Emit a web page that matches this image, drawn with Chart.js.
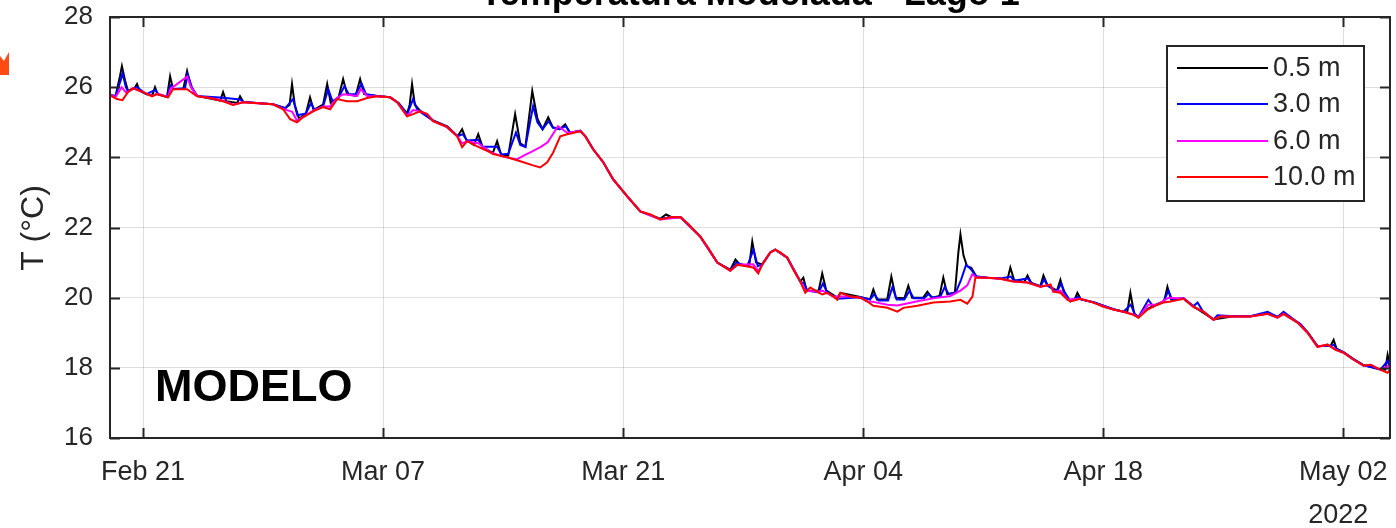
<!DOCTYPE html>
<html>
<head>
<meta charset="utf-8">
<script src="https://cdn.jsdelivr.net/npm/chart.js@4.4.1/dist/chart.umd.min.js"></script>
<style>
html, body { margin: 0; padding: 0; background: #fff; }
#wrap { position: relative; width: 1396px; height: 528px; overflow: hidden; }
</style>
</head>
<body>
<div id="wrap"><canvas id="grafico" width="1396" height="528"></canvas></div>
<script>
// dias contados a partir de 21/02/2022 00:00, temperatura em °C
const diasTicks = [0, 14, 28, 42, 56, 70];
const rotulosTicks = ['Feb 21', 'Mar 07', 'Mar 21', 'Apr 04', 'Apr 18', 'May 02'];
const profundidades = ['0.5 m', '3.0 m', '6.0 m', '10.0 m'];
const cores = ['#000000', '#0000ff', '#ff00ff', '#ff0000'];

const temp05m = [
  [-1.93, 25.77], [-1.6, 25.75], [-1.35, 26.3], [-1.23, 26.6], [-1.05, 26.2], [-0.88, 25.9],
  [-0.5, 25.97], [-0.35, 26.09], [-0.2, 25.9], [0.2, 25.8], [0.55, 25.78], [0.7, 26.0],
  [0.85, 25.8], [1.4, 25.72], [1.58, 26.31], [1.75, 25.95], [2.35, 25.95], [2.57, 26.46],
  [2.8, 26.0], [3.15, 25.75], [4.5, 25.62], [4.67, 25.86], [4.85, 25.6], [5.5, 25.55],
  [5.66, 25.74], [5.85, 25.58], [7.58, 25.51], [8.3, 25.4], [8.55, 25.5], [8.69, 26.09],
  [8.85, 25.5], [9.1, 25.1], [9.5, 25.25], [9.74, 25.71], [9.95, 25.35], [10.5, 25.5],
  [10.74, 26.09], [10.95, 25.55], [11.4, 25.7], [11.67, 26.23], [11.9, 25.8], [12.4, 25.75],
  [12.66, 26.23], [12.9, 25.8], [13.65, 25.75], [14.41, 25.71], [14.9, 25.55], [15.4, 25.25],
  [15.55, 25.5], [15.69, 26.09], [15.85, 25.5], [16.16, 25.33], [16.92, 25.05], [17.74, 24.88],
  [18.35, 24.6], [18.61, 24.8], [18.85, 24.5], [19.3, 24.35], [19.55, 24.66], [19.8, 24.3],
  [20.4, 24.12], [20.65, 24.46], [20.9, 24.05], [21.3, 24.05], [21.7, 25.23], [22.0, 24.4],
  [22.3, 24.3], [22.7, 25.89], [23.0, 25.1], [23.3, 24.8], [23.63, 25.14], [23.9, 24.85],
  [24.3, 24.8], [24.62, 24.94], [24.9, 24.7], [25.5, 24.76], [25.8, 24.6], [26.25, 24.23],
  [26.84, 23.86], [27.42, 23.37], [28.24, 22.89], [29.0, 22.46], [30.16, 22.25], [30.5, 22.37],
  [30.8, 22.3], [31.35, 22.29], [32.5, 21.74], [33.49, 21.0], [34.25, 20.8], [34.55, 21.09],
  [34.8, 20.95], [35.35, 20.9], [35.53, 21.6], [35.75, 21.0], [36.1, 20.95], [36.58, 21.29],
  [36.87, 21.37], [37.57, 21.14], [38.33, 20.46], [38.51, 20.57], [38.7, 20.2], [39.4, 20.2],
  [39.61, 20.69], [39.85, 20.2], [40.49, 20.0], [40.67, 20.14], [41.83, 20.02], [42.4, 19.95],
  [42.59, 20.23], [42.8, 19.95], [43.4, 19.95], [43.64, 20.6], [43.9, 20.0], [44.4, 19.98],
  [44.63, 20.34], [44.85, 20.0], [45.5, 20.0], [45.74, 20.17], [46.0, 20.0], [46.45, 20.05],
  [46.67, 20.57], [46.9, 20.1], [47.35, 20.15], [47.55, 21.3], [47.67, 21.8], [47.85, 21.2],
  [48.05, 20.9], [48.3, 20.85], [48.6, 20.6], [49.24, 20.57], [50.0, 20.55], [50.4, 20.5],
  [50.58, 20.86], [50.8, 20.5], [51.4, 20.45], [51.58, 20.63], [51.8, 20.42], [52.33, 20.33],
  [52.51, 20.63], [52.75, 20.35], [53.3, 20.2], [53.5, 20.51], [53.7, 20.15], [54.08, 19.9],
  [54.35, 19.97], [54.49, 20.14], [54.7, 19.95], [55.43, 19.87], [56.59, 19.67], [57.18, 19.6],
  [57.4, 19.6], [57.58, 20.14], [57.8, 19.55], [58.05, 19.45], [58.58, 19.68], [59.16, 19.82],
  [59.55, 19.9], [59.74, 20.31], [59.95, 19.95], [60.68, 19.98], [61.26, 19.75], [62.43, 19.38],
  [63.59, 19.47], [64.58, 19.47], [65.58, 19.55], [66.16, 19.45], [66.51, 19.55], [67.33, 19.3],
  [67.91, 19.02], [68.49, 18.62], [69.25, 18.62], [69.43, 18.8], [69.6, 18.55], [70.01, 18.45],
  [70.6, 18.25], [71.18, 18.08], [72.17, 17.96], [72.45, 17.95], [72.58, 18.37], [72.75, 17.98]
];

const temp3m = [
  [-1.93, 25.77], [-1.6, 25.75], [-1.3, 26.2], [-1.2, 26.4], [-1.0, 26.0], [-0.88, 25.88],
  [-0.35, 26.0], [0.2, 25.8], [0.7, 25.92], [0.9, 25.8], [1.4, 25.72], [1.6, 26.05],
  [1.8, 25.95], [2.45, 25.97], [2.6, 26.37], [2.85, 26.0], [3.15, 25.75], [4.67, 25.7],
  [5.66, 25.65], [5.85, 25.58], [7.58, 25.51], [8.3, 25.4], [8.75, 25.66], [9.0, 25.2],
  [9.5, 25.25], [9.8, 25.55], [10.0, 25.35], [10.5, 25.45], [10.8, 25.94], [11.05, 25.6],
  [11.4, 25.7], [11.75, 26.03], [12.0, 25.8], [12.4, 25.8], [12.75, 26.1], [13.0, 25.8],
  [13.65, 25.75], [14.41, 25.71], [14.9, 25.55], [15.4, 25.22], [15.75, 25.66], [16.0, 25.35],
  [16.92, 25.04], [17.74, 24.87], [18.35, 24.6], [18.65, 24.66], [18.9, 24.48], [19.55, 24.5],
  [19.8, 24.3], [20.65, 24.3], [20.9, 24.08], [21.3, 24.1], [21.75, 24.71], [22.0, 24.35],
  [22.3, 24.3], [22.75, 25.46], [23.0, 25.0], [23.3, 24.8], [23.65, 25.03], [23.9, 24.85],
  [24.3, 24.8], [24.65, 24.89], [24.9, 24.7], [25.5, 24.75], [25.8, 24.6], [26.25, 24.23],
  [26.84, 23.86], [27.42, 23.37], [28.24, 22.89], [29.0, 22.46], [30.16, 22.24], [30.8, 22.3],
  [31.35, 22.29], [32.5, 21.74], [33.49, 21.0], [34.25, 20.78], [34.6, 21.0], [35.24, 20.9],
  [35.6, 21.37], [35.85, 20.9], [36.11, 20.95], [36.58, 21.29], [36.87, 21.37], [37.57, 21.14],
  [38.33, 20.46], [38.55, 20.4], [38.75, 20.2], [39.4, 20.15], [39.65, 20.4], [39.9, 20.15],
  [40.49, 19.97], [41.83, 20.01], [42.4, 19.95], [42.65, 20.1], [42.9, 19.92], [43.45, 19.92],
  [43.7, 20.3], [43.95, 19.95], [44.4, 19.95], [44.7, 20.2], [44.95, 19.98], [45.55, 19.98],
  [45.8, 20.1], [46.05, 20.0], [46.5, 20.03], [46.75, 20.3], [47.0, 20.1], [47.4, 20.15],
  [47.7, 20.5], [48.0, 20.94], [48.3, 20.8], [48.6, 20.6], [49.24, 20.57], [50.0, 20.55],
  [50.6, 20.6], [50.8, 20.48], [51.6, 20.55], [51.8, 20.42], [52.33, 20.32], [52.55, 20.52],
  [52.75, 20.34], [53.3, 20.18], [53.55, 20.4], [53.75, 20.15], [54.08, 19.9], [54.5, 20.02],
  [54.7, 19.95], [55.43, 19.87], [56.59, 19.67], [57.18, 19.6], [57.6, 19.8], [57.85, 19.52],
  [58.05, 19.45], [58.63, 19.94], [58.9, 19.75], [59.16, 19.81], [59.5, 19.88], [59.8, 20.2],
  [60.0, 19.95], [60.68, 19.98], [61.26, 19.76], [61.5, 19.86], [61.8, 19.62], [62.43, 19.38],
  [62.66, 19.5], [63.59, 19.47], [64.58, 19.47], [65.58, 19.6], [66.16, 19.45], [66.51, 19.6],
  [67.33, 19.3], [67.5, 19.25], [67.91, 19.02], [68.49, 18.62], [69.25, 18.62], [69.45, 18.66],
  [69.6, 18.53], [70.01, 18.44], [70.6, 18.24], [71.18, 18.07], [72.17, 17.95], [72.58, 18.2],
  [72.75, 17.95]
];

const temp6m = [
  [-1.93, 25.77], [-1.6, 25.72], [-1.25, 26.0], [-1.0, 25.85], [-0.88, 25.87], [-0.58, 25.97],
  [0, 25.86], [0.53, 25.75], [0.82, 25.82], [1.46, 25.72], [1.6, 25.95], [2.57, 26.3],
  [2.8, 26.0], [3.15, 25.75], [3.91, 25.69], [4.67, 25.62], [5.25, 25.5], [5.83, 25.57],
  [7.58, 25.51], [8.17, 25.38], [8.7, 25.3], [8.98, 25.05], [9.33, 25.15], [9.92, 25.33],
  [10.5, 25.45], [10.91, 25.45], [11.32, 25.7], [11.7, 25.8], [12.49, 25.75], [12.7, 25.94],
  [13.07, 25.75], [13.65, 25.74], [14.41, 25.71], [14.82, 25.57], [15.4, 25.18], [15.75, 25.35],
  [16.16, 25.31], [16.57, 25.23], [16.92, 25.03], [17.74, 24.86], [18.32, 24.6], [18.61, 24.4],
  [18.9, 24.46], [19.55, 24.4], [20.25, 24.15], [21.0, 24.02], [21.8, 23.94], [22.2, 24.05],
  [22.7, 24.17], [23.2, 24.3], [23.6, 24.43], [24.2, 24.89], [24.74, 24.7], [25.5, 24.75],
  [25.79, 24.6], [26.25, 24.23], [26.84, 23.86], [27.42, 23.37], [28.24, 22.89], [29.0, 22.46],
  [30.16, 22.23], [31.35, 22.29], [32.5, 21.74], [33.49, 21.0], [34.25, 20.77], [34.66, 20.94],
  [35.59, 20.95], [35.88, 20.75], [36.11, 20.94], [36.58, 21.29], [36.87, 21.37], [37.57, 21.14],
  [38.33, 20.46], [38.62, 20.2], [39.32, 20.17], [39.61, 20.2], [40.26, 20.03], [41.25, 20.03],
  [41.83, 20.0], [42.24, 19.9], [42.59, 19.88], [43.41, 19.8], [43.99, 19.78], [44.7, 19.85],
  [45.16, 19.9], [46.09, 19.98], [47.08, 20.05], [47.67, 20.2], [48.07, 20.35], [48.35, 20.66],
  [48.6, 20.58], [49.24, 20.57], [50.0, 20.54], [50.76, 20.46], [51.58, 20.43], [52.33, 20.31],
  [52.92, 20.37], [53.09, 20.17], [53.5, 20.2], [53.91, 19.95], [54.67, 19.97], [55.43, 19.86],
  [56.59, 19.66], [57.18, 19.6], [57.76, 19.52], [58.05, 19.44], [58.63, 19.8], [59.16, 19.8],
  [59.8, 20.0], [60.68, 19.98], [61.26, 19.74], [61.84, 19.6], [62.43, 19.37], [62.83, 19.46],
  [63.59, 19.46], [64.58, 19.46], [65.58, 19.54], [66.16, 19.43], [66.51, 19.54], [67.33, 19.29],
  [67.91, 19.0], [68.49, 18.6], [69.08, 18.66], [69.55, 18.52], [70.01, 18.43], [70.6, 18.23],
  [71.18, 18.06], [71.59, 18.09], [72.17, 17.94], [72.58, 18.05], [72.75, 18.0]
];

const temp10m = [
  [-1.93, 25.77], [-1.52, 25.66], [-1.2, 25.63], [-0.88, 25.86], [-0.58, 25.97], [0, 25.86],
  [0.53, 25.74], [0.82, 25.8], [1.46, 25.71], [1.75, 25.94], [2.57, 25.94], [3.15, 25.74],
  [3.91, 25.69], [4.67, 25.6], [5.25, 25.49], [5.83, 25.57], [6.65, 25.54], [7.58, 25.51],
  [8.17, 25.37], [8.58, 25.09], [8.98, 25.0], [9.33, 25.14], [9.92, 25.31], [10.5, 25.43],
  [10.91, 25.37], [11.32, 25.66], [11.9, 25.6], [12.49, 25.6], [13.07, 25.69], [13.65, 25.74],
  [14.41, 25.71], [14.82, 25.57], [15.4, 25.17], [15.75, 25.23], [16.16, 25.31], [16.57, 25.23],
  [16.92, 25.03], [17.74, 24.86], [18.32, 24.6], [18.61, 24.29], [18.9, 24.46], [19.49, 24.31],
  [20.25, 24.14], [20.42, 24.09], [21.24, 24.0], [22.0, 23.89], [22.75, 23.77], [23.16, 23.71],
  [23.57, 23.86], [23.92, 24.14], [24.33, 24.6], [24.74, 24.66], [25.5, 24.74], [25.79, 24.6],
  [26.25, 24.23], [26.84, 23.86], [27.42, 23.37], [28.24, 22.89], [29.0, 22.46], [29.6, 22.37],
  [30.16, 22.23], [30.8, 22.3], [31.35, 22.29], [31.8, 22.1], [32.5, 21.74], [32.91, 21.46],
  [33.49, 21.0], [34.25, 20.77], [34.66, 20.94], [35.24, 20.89], [35.59, 20.86], [35.88, 20.69],
  [36.11, 20.94], [36.58, 21.29], [36.87, 21.37], [37.16, 21.29], [37.57, 21.14], [37.92, 20.8],
  [38.33, 20.46], [38.62, 20.14], [38.91, 20.29], [39.32, 20.17], [39.61, 20.09], [39.91, 20.14],
  [40.26, 20.03], [40.49, 19.94], [40.67, 20.14], [41.25, 20.03], [41.83, 20.0], [42.24, 19.89],
  [42.59, 19.77], [43.41, 19.71], [43.99, 19.6], [44.34, 19.71], [45.16, 19.77], [46.09, 19.86],
  [47.08, 19.89], [47.67, 19.94], [48.07, 19.83], [48.37, 20.03], [48.54, 20.57], [49.24, 20.57],
  [50.0, 20.54], [50.76, 20.46], [51.58, 20.43], [52.33, 20.31], [52.92, 20.37], [53.09, 20.17],
  [53.5, 20.14], [53.91, 19.94], [54.08, 19.89], [54.67, 19.97], [55.43, 19.86], [56.01, 19.74],
  [56.59, 19.66], [57.18, 19.6], [57.76, 19.51], [58.05, 19.43], [58.58, 19.66], [59.16, 19.8],
  [59.51, 19.86], [59.92, 19.89], [60.68, 19.97], [61.26, 19.74], [61.84, 19.6], [62.43, 19.37],
  [62.83, 19.46], [63.59, 19.46], [64.58, 19.46], [65.58, 19.54], [66.16, 19.43], [66.51, 19.54],
  [67.33, 19.29], [67.91, 19.0], [68.49, 18.6], [69.08, 18.66], [69.55, 18.51], [70.01, 18.43],
  [70.6, 18.23], [71.18, 18.06], [71.59, 18.09], [72.17, 17.94], [72.58, 17.86], [72.75, 17.98]
];

const series = [temp05m, temp3m, temp6m, temp10m];

const corEixo = '#262626';
const fonteEixo = '"Liberation Sans", Arial, Helvetica, sans-serif';

// caixa do eixo com marcas internas, legenda e textos soltos (estilo MATLAB)
const moldura = {
  id: 'moldura',
  afterDraw(chart) {
    const ctx = chart.ctx;
    const a = chart.chartArea;
    const sx = chart.scales.x;
    const sy = chart.scales.y;

    ctx.save();
    ctx.strokeStyle = corEixo;
    ctx.lineWidth = 2;
    ctx.strokeRect(a.left, a.top, a.right - a.left, a.bottom - a.top);

    const tam = 10;
    ctx.beginPath();
    sx.ticks.forEach(t => {
      const px = Math.round(sx.getPixelForValue(t.value)) + 0.5;
      ctx.moveTo(px, a.bottom); ctx.lineTo(px, a.bottom - tam);
      ctx.moveTo(px, a.top); ctx.lineTo(px, a.top + tam);
    });
    sy.ticks.forEach(t => {
      const py = Math.round(sy.getPixelForValue(t.value)) + 0.5;
      ctx.moveTo(a.left, py); ctx.lineTo(a.left + tam, py);
      ctx.moveTo(a.right, py); ctx.lineTo(a.right - tam, py);
    });
    ctx.stroke();

    // ano abaixo do ultimo rotulo
    ctx.fillStyle = corEixo;
    ctx.font = '27px ' + fonteEixo;
    ctx.textAlign = 'center';
    ctx.textBaseline = 'alphabetic';
    ctx.fillText('2022', sx.getPixelForValue(diasTicks[diasTicks.length - 1]) - 5, 523);

    // titulo do eixo y
    ctx.save();
    ctx.translate(34, 228);
    ctx.rotate(-Math.PI / 2);
    ctx.font = '32px ' + fonteEixo;
    ctx.textBaseline = 'middle';
    ctx.fillText('T (°C)', 0, 0);
    ctx.restore();

    // titulo, cortado pela borda superior
    ctx.fillStyle = '#000';
    ctx.font = 'bold 36px ' + fonteEixo;
    ctx.fillText('Temperatura Modelada - Lago 1', (a.left + a.right) / 2, 5);

    // legenda
    const lx = 1167, ly = 46, lw = 197, lh = 155;
    ctx.fillStyle = '#fff';
    ctx.fillRect(lx, ly, lw, lh);
    ctx.strokeStyle = corEixo;
    ctx.lineWidth = 2;
    ctx.strokeRect(lx, ly, lw, lh);
    const linhas = [68, 104, 141, 177];
    ctx.font = '27px ' + fonteEixo;
    ctx.textAlign = 'left';
    ctx.textBaseline = 'middle';
    chart.data.datasets.forEach((ds, i) => {
      ctx.strokeStyle = ds.borderColor;
      ctx.lineWidth = 2;
      ctx.beginPath();
      ctx.moveTo(lx + 10, linhas[i]);
      ctx.lineTo(lx + 101, linhas[i]);
      ctx.stroke();
      ctx.fillStyle = corEixo;
      ctx.fillText(ds.label, lx + 106, linhas[i] + 1);
    });

    // rotulo do painel
    ctx.fillStyle = '#000';
    ctx.font = 'bold 45px ' + fonteEixo;
    ctx.textBaseline = 'alphabetic';
    ctx.fillText('MODELO', 155, 401);

    // ponta laranja na margem esquerda
    ctx.fillStyle = '#ff4a12';
    ctx.beginPath();
    ctx.moveTo(0, 56); ctx.lineTo(4, 61); ctx.lineTo(9, 52);
    ctx.lineTo(9, 75); ctx.lineTo(0, 75);
    ctx.closePath();
    ctx.fill();
    ctx.restore();
  }
};

const ordem = [3, 2, 1, 0];

new Chart(document.getElementById('grafico'), {
  type: 'line',
  data: {
    datasets: series.map((s, i) => ({
      label: profundidades[i],
      data: s.map(p => ({ x: p[0], y: p[1] })),
      borderColor: cores[i],
      borderWidth: 2,
      pointRadius: 0,
      tension: 0,
      fill: false,
      order: ordem[i]
    }))
  },
  options: {
    responsive: false,
    animation: false,
    devicePixelRatio: 1,
    layout: { padding: { top: 17, right: 6, left: 0, bottom: 0 } },
    plugins: {
      legend: { display: false },
      title: { display: false },
      tooltip: { enabled: false }
    },
    scales: {
      x: {
        type: 'linear',
        min: -1.925,
        max: 72.72,
        afterBuildTicks: s => { s.ticks = diasTicks.map(v => ({ value: v })); },
        afterFit: s => {
          s.height = 90;
          s.paddingLeft = 0;
          s.paddingRight = 0;
        },
        ticks: {
          autoSkip: false,
          maxRotation: 0,
          padding: 18,
          color: corEixo,
          font: { family: fonteEixo, size: 27 },
          callback: (v, i) => rotulosTicks[i]
        },
        grid: { color: 'rgba(0,0,0,0.13)', lineWidth: 1, drawTicks: false },
        border: { display: false }
      },
      y: {
        min: 16,
        max: 28,
        afterFit: s => {
          s.width = 110;
          s.paddingTop = 0;
          s.paddingBottom = 0;
        },
        ticks: {
          stepSize: 2,
          padding: 17,
          color: corEixo,
          font: { family: fonteEixo, size: 26 }
        },
        grid: { color: 'rgba(0,0,0,0.13)', lineWidth: 1, drawTicks: false },
        border: { display: false }
      }
    }
  },
  plugins: [moldura]
});
</script>
</body>
</html>
